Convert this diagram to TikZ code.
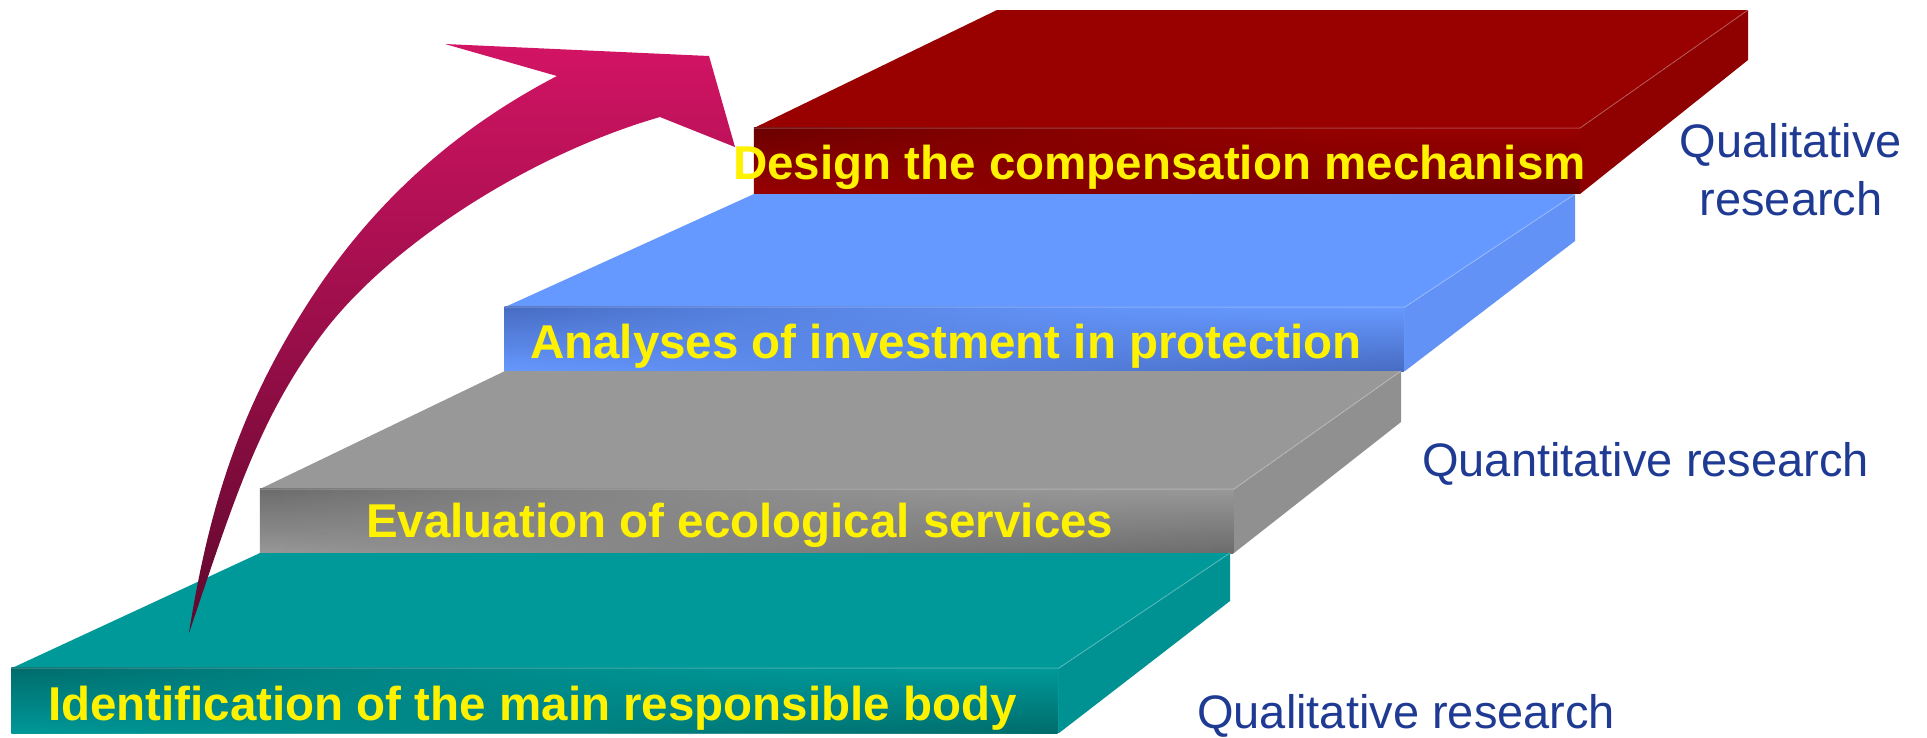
\documentclass[tikz,border=0pt]{standalone}
\usepackage{fontspec}
\setmainfont{Liberation Sans}
\usetikzlibrary{fadings}
\definecolor{tealbase}{RGB}{0,153,153}
\definecolor{tealdark}{RGB}{0,108,108}
\definecolor{tealside}{RGB}{0,146,146}
\definecolor{graybase}{RGB}{152,152,152}
\definecolor{graydark}{RGB}{108,108,108}
\definecolor{grayside}{RGB}{144,144,144}
\definecolor{bluebase}{RGB}{102,153,255}
\definecolor{bluedark}{RGB}{72,108,194}
\definecolor{blueside}{RGB}{98,146,245}
\definecolor{redbase}{RGB}{153,0,0}
\definecolor{reddark}{RGB}{108,0,0}
\definecolor{redside}{RGB}{143,0,0}
\definecolor{labelblue}{RGB}{31,58,147}
\definecolor{arrowtop}{RGB}{210,20,100}
\definecolor{arrowbot}{RGB}{95,8,45}
% front face of a step: base colour, dark colour, two corners
\newcommand\stepfront[4]{%
  \fill[#1] #3 rectangle #4;
  \shade[top color=#2, bottom color=#1, path fading=east] #3 rectangle #4;
  \shade[top color=#1, bottom color=#2, path fading=west] #3 rectangle #4;
}
\begin{document}
\begin{tikzpicture}[x=1pt,y=-1pt,
  steplabel/.style={text=yellow, font=\bfseries\fontsize{47.5}{57}\selectfont, inner sep=0pt, anchor=base west},
  researchlabel/.style={text=labelblue, font=\fontsize{47}{58}\selectfont, inner sep=0pt},
  edgeline/.style={draw=white, draw opacity=0.25, line width=1pt}]
\useasboundingbox (0,0) rectangle (1927,737);

% ---------- red step (top) ----------
\fill[redbase] (754,128) -- (997,10) -- (1748,10) -- (1580,128) -- cycle;
\fill[redside] (1580,128) -- (1748,10) -- (1748,60) -- (1580,194) -- cycle;
\stepfront{redbase}{reddark}{(754,128)}{(1580,194)}
\draw[edgeline] (754,128) -- (1580,128) -- (1748,10);

% ---------- blue step ----------
\fill[bluebase] (505,307) -- (754,194) -- (1575,194) -- (1405,307) -- cycle;
\fill[blueside] (1405,307) -- (1575,194) -- (1575,241) -- (1405,371) -- cycle;
\stepfront{bluebase}{bluedark}{(505,307)}{(1405,371)}
\draw[edgeline] (505,307) -- (1405,307) -- (1575,194);

% ---------- gray step ----------
\fill[graybase] (260,489) -- (505,371) -- (1401,371) -- (1234,489) -- cycle;
\fill[grayside] (1234,489) -- (1401,371) -- (1401,422) -- (1234,553) -- cycle;
\stepfront{graybase}{graydark}{(260,489)}{(1234,553)}
\draw[edgeline] (260,489) -- (1234,489) -- (1401,371);

% ---------- teal step (bottom) ----------
\fill[tealbase] (12,668) -- (260,553) -- (1230,553) -- (1059,668) -- cycle;
\fill[tealside] (1059,668) -- (1230,553) -- (1230,601) -- (1059,733) -- cycle;
\stepfront{tealbase}{tealdark}{(12,668)}{(1059,733)}
\draw[edgeline] (12,668) -- (1059,668) -- (1230,553);

% ---------- curved arrow ----------
\shade[top color=arrowtop, bottom color=arrowbot]
  (189,633) .. controls (211,493) and (246,399) .. (310,300)
            .. controls (374,201) and (457,128) .. (557,76)
  -- (445,44) -- (709,56) -- (735,147) -- (660,117)
            .. controls (525,156) and (387,248) .. (323,333)
            .. controls (259,418) and (234,500) .. (189,633)
  -- cycle;

% ---------- step labels ----------
\node[steplabel] (design) at (733,179) {Design the compensation mechanism};
\node[steplabel] (analyses) at (530,358) {Analyses of investment in protection};
\node[steplabel] (evaluation) at (366,537) {Evaluation of ecological services};
\node[steplabel] (identification) at (48,720) {Identification of the main responsible body};

% ---------- research labels ----------
\node[researchlabel, align=center, anchor=north] (qual1) at (1791,123) {Qualitative\\research};
\node[researchlabel, anchor=base west] (quant) at (1422,476) {Quantitative research};
\node[researchlabel, anchor=base west] (qual2) at (1197,728) {Qualitative research};
\end{tikzpicture}
\end{document}
